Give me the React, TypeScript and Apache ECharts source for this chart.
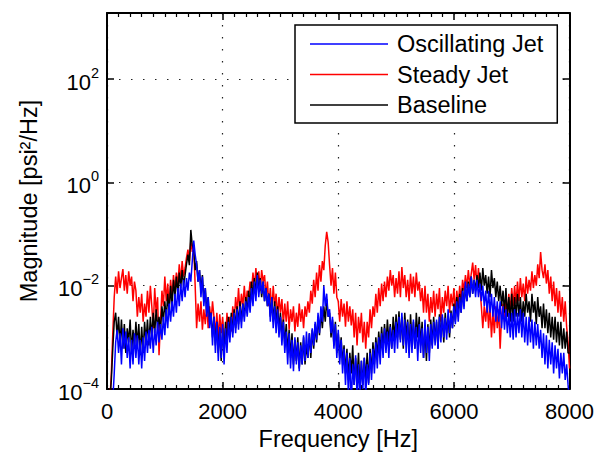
import React, { useEffect, useRef } from 'react';
import * as echarts from 'echarts';

const FONT = '"Liberation Sans", Arial, Helvetica, sans-serif';

// Frequency grid (Hz): first sample and spacing of the spectra below
const FREQ_START = 0;
const FREQ_STEP = 25;

const X_MIN = 0;
const X_MAX = 8000;
const X_INTERVAL = 2000;
const Y_MIN = 1e-4;
const Y_MAX = 1900;

const SERIES_NAMES = ['Oscillating Jet', 'Steady Jet', 'Baseline'];

// Steady Jet (red), psi^2/Hz, every 25 Hz from 0 to 8000 Hz (20 values = 500 Hz per row)
const steadyJet = [
  5e-5, 5e-5, 6e-5, 2e-4, 1.2e-3, 6e-3, 1.5e-2, 7e-3, 1.9e-2, 9e-3, 1.4e-2, 2.1e-2, 8e-3, 1.6e-2, 7e-3, 1.9e-2, 1e-2, 1.5e-2, 5e-3, 1.2e-2,
  8e-3, 2.5e-3, 6e-3, 3e-3, 7e-3, 2e-3, 4.5e-3, 2.5e-3, 8e-3, 3e-3, 1e-2, 4e-3, 1.5e-3, 9e-3, 3e-3, 6e-3, 4.5e-4, 2e-3, 8e-3, 4e-3,
  1.5e-2, 5e-3, 1.1e-2, 4e-3, 1.3e-2, 6e-3, 1.6e-2, 8e-3, 1.8e-2, 1e-2, 2.6e-2, 1.2e-2, 3e-2, 1.5e-2, 2.2e-2, 3.5e-2, 5e-2, 3e-2, 7.5e-2, 4.5e-2,
  6e-2, 1e-2, 1.5e-3, 4.5e-3, 2e-3, 5e-3, 1.4e-3, 3.5e-3, 1.8e-3, 4.5e-3, 1.5e-3, 4e-3, 2e-3, 5e-3, 2.5e-3, 1.2e-3, 3e-3, 9e-4, 2.8e-3, 1.2e-3,
  2.5e-3, 1e-3, 8e-4, 3e-3, 1.2e-3, 2.5e-3, 1.3e-3, 4e-3, 2e-3, 6e-3, 3e-3, 9e-3, 3e-3, 7e-3, 4e-3, 1e-2, 4e-3, 8e-3, 6e-3, 1.2e-2,
  8e-3, 1.8e-2, 9e-3, 2.2e-2, 1.1e-2, 1.9e-2, 8e-3, 2e-2, 1.2e-2, 1.6e-2, 6e-3, 1.2e-2, 4e-3, 9e-3, 3e-3, 1e-2, 4e-3, 7e-3, 2.5e-3, 6e-3,
  3e-3, 5.5e-3, 1.8e-3, 4.5e-3, 2e-3, 5e-3, 1.4e-3, 3.5e-3, 2e-3, 4e-3, 1.3e-3, 3e-3, 1.6e-3, 4.5e-3, 2e-3, 3.5e-3, 1.5e-3, 4e-3, 2.5e-3, 5e-3,
  3e-3, 8e-3, 4.5e-3, 1.3e-2, 6e-3, 1.8e-2, 8e-3, 2.5e-2, 1.2e-2, 3e-2, 2e-2, 6e-2, 1.1e-1, 7e-2, 2.5e-2, 1e-2, 2.2e-2, 7e-3, 1.8e-2, 6e-3,
  5e-3, 2e-3, 5.5e-3, 2.5e-3, 4.5e-3, 1.6e-3, 5e-3, 2e-3, 4e-3, 1.7e-3, 3.5e-3, 1e-3, 3e-3, 7e-4, 2.5e-3, 1.2e-3, 3e-3, 8e-4, 2e-3, 6e-4,
  2e-3, 1e-3, 3.5e-3, 1.5e-3, 4e-3, 2.5e-3, 7e-3, 3e-3, 9e-3, 4e-3, 1.1e-2, 5e-3, 1.2e-2, 6e-3, 1.5e-2, 8e-3, 2e-2, 1e-2, 1.6e-2, 6e-3,
  1.4e-2, 7e-3, 1.9e-2, 6e-3, 2.3e-2, 9e-3, 1.6e-2, 6e-3, 1.3e-2, 5e-3, 1.7e-2, 7e-3, 1.5e-2, 6e-3, 1.8e-2, 8e-3, 1.2e-2, 5e-3, 9e-3, 3e-3,
  1e-2, 3e-3, 7e-3, 2e-3, 6e-3, 3e-3, 8e-3, 2.5e-3, 7e-3, 3.5e-3, 9e-3, 2e-3, 6e-3, 3e-3, 8e-3, 4e-3, 1e-2, 3e-3, 7e-3, 4e-3,
  9e-3, 3e-3, 8e-3, 4e-3, 1e-2, 5e-3, 1.3e-2, 8e-3, 1.6e-2, 9e-3, 2e-2, 1e-2, 1.7e-2, 2.8e-2, 1.3e-2, 2.5e-2, 1e-2, 2.2e-2, 9e-3, 4e-3,
  1.5e-3, 4e-3, 2e-3, 5e-3, 1.5e-3, 4e-3, 1e-3, 3e-3, 1.2e-3, 4e-3, 1.5e-3, 3.5e-3, 6e-4, 2.5e-3, 4.5e-3, 2e-3, 6e-3, 2.5e-3, 7e-3, 3e-3,
  9e-3, 4e-3, 1e-2, 4.5e-3, 1.2e-2, 5e-3, 1.4e-2, 6e-3, 1.1e-2, 5e-3, 1.5e-2, 7e-3, 1.3e-2, 8e-3, 1.9e-2, 9e-3, 1.6e-2, 1e-2, 2.6e-2, 1.4e-2,
  4.5e-2, 2e-2, 1.4e-2, 2.6e-2, 1.1e-2, 2e-2, 7e-3, 1.5e-2, 5e-3, 1.2e-2, 4e-3, 9e-3, 3e-3, 8e-3, 2.5e-3, 6e-3, 2e-3, 5e-3, 1.6e-3, 8e-4,
  2.5e-4,
];

// Baseline (black)
const baseline = [
  5e-5, 5e-5, 6e-5, 1.5e-4, 6e-4, 2e-3, 3e-3, 1e-3, 2.5e-3, 7e-4, 2.2e-3, 6e-4, 1.8e-3, 5e-4, 1.5e-3, 8e-4, 2.2e-3, 5e-4, 1.4e-3, 6e-4,
  2e-3, 7e-4, 1.8e-3, 4.5e-4, 1.6e-3, 5e-4, 2e-3, 8e-4, 2.2e-3, 7e-4, 2.5e-3, 1e-3, 3e-3, 1.2e-3, 3.5e-3, 1.5e-3, 2.5e-3, 1.3e-3, 4e-3, 2e-3,
  5e-3, 2.2e-3, 7e-3, 3e-3, 1e-2, 4e-3, 1.3e-2, 6e-3, 1.5e-2, 7e-3, 1.8e-2, 9e-3, 2e-2, 1e-2, 1.6e-2, 2.6e-2, 4e-2, 2.5e-2, 1.2e-1, 6e-2,
  5e-2, 2e-2, 3e-2, 1.2e-2, 2e-2, 8e-3, 1.6e-2, 5e-3, 9e-3, 3e-3, 6e-3, 2e-3, 3e-3, 1e-3, 2.5e-3, 7e-4, 2e-3, 5e-4, 1.5e-3, 3.5e-4,
  1.5e-3, 5e-4, 2e-3, 7e-4, 2.5e-3, 1e-3, 3e-3, 1.2e-3, 3.5e-3, 1.5e-3, 4e-3, 1.8e-3, 5e-3, 2e-3, 4.5e-3, 2.5e-3, 6e-3, 3e-3, 8e-3, 4e-3,
  1.2e-2, 6e-3, 1.4e-2, 7e-3, 1.8e-2, 8e-3, 1.4e-2, 6e-3, 1.2e-2, 5e-3, 9e-3, 4e-3, 7e-3, 2.5e-3, 6e-3, 2e-3, 5e-3, 1.8e-3, 4e-3, 1.5e-3,
  3e-3, 1e-3, 2.2e-3, 7e-4, 1.8e-3, 5e-4, 1.4e-3, 4e-4, 1.2e-3, 3e-4, 9e-4, 3.5e-4, 1e-3, 2.5e-4, 8e-4, 3e-4, 1e-3, 3e-4, 7e-4, 4e-4,
  1.2e-3, 4e-4, 1.4e-3, 6e-4, 1.8e-3, 8e-4, 2.5e-3, 1.1e-3, 3e-3, 1.5e-3, 4e-3, 2e-3, 5.5e-3, 2.5e-3, 3e-3, 1e-3, 2.2e-3, 7e-4, 2e-3, 5e-4,
  1.2e-3, 4e-4, 1e-3, 3e-4, 7e-4, 2e-4, 6e-4, 1.5e-4, 5e-4, 2e-4, 7e-4, 1.2e-4, 4e-4, 1.5e-4, 5e-4, 1e-4, 3.5e-4, 1.2e-4, 4e-4, 1.5e-4,
  5e-4, 1.3e-4, 6e-4, 2e-4, 8e-4, 3e-4, 1e-3, 4e-4, 1.3e-3, 5e-4, 1.6e-3, 6e-4, 1.8e-3, 7e-4, 2.2e-3, 8e-4, 1.8e-3, 6e-4, 2.5e-3, 9e-4,
  2.8e-3, 1e-3, 3.2e-3, 9e-4, 2.5e-3, 6e-4, 3e-3, 1e-3, 2.2e-3, 5e-4, 2.8e-3, 8e-4, 2e-3, 6e-4, 3e-3, 1e-3, 2.5e-3, 7e-4, 2e-3, 4e-4,
  1.5e-3, 3.5e-4, 1.8e-3, 5e-4, 2.2e-3, 7e-4, 2.5e-3, 9e-4, 2e-3, 6e-4, 2.8e-3, 1e-3, 2.5e-3, 8e-4, 3e-3, 1.2e-3, 2.5e-3, 1e-3, 3.3e-3, 1.5e-3,
  4.5e-3, 2e-3, 6e-3, 2.5e-3, 7e-3, 3e-3, 9e-3, 4e-3, 1e-2, 5e-3, 1.2e-2, 6e-3, 1.5e-2, 7e-3, 1.3e-2, 8e-3, 1.6e-2, 9e-3, 1.8e-2, 8e-3,
  2.2e-2, 1e-2, 1.6e-2, 7e-3, 1.5e-2, 6e-3, 2e-2, 9e-3, 1.4e-2, 6e-3, 1.2e-2, 5e-3, 1e-2, 4e-3, 8e-3, 3e-3, 9e-3, 2.5e-3, 6e-3, 2e-3,
  7e-3, 2e-3, 6e-3, 2.5e-3, 7e-3, 2.5e-3, 6e-3, 2e-3, 5e-3, 2.5e-3, 7e-3, 3e-3, 5e-3, 2e-3, 7e-3, 3e-3, 5e-3, 1.8e-3, 6e-3, 2.5e-3,
  4e-3, 1.5e-3, 4.5e-3, 1.5e-3, 3.5e-3, 1.2e-3, 3e-3, 1e-3, 2.5e-3, 9e-4, 2.5e-3, 8e-4, 2e-3, 7e-4, 2e-3, 6e-4, 1.5e-3, 6e-4, 1.3e-3, 5e-4,
  5e-4,
];

// Oscillating Jet (blue)
const oscillatingJet = [
  5e-5, 5e-5, 5e-5, 5e-5, 6e-5, 2e-4, 8e-4, 1.4e-3, 5e-4, 1.2e-3, 3e-4, 1.5e-3, 6e-4, 1.3e-3, 4e-4, 1e-3, 2.5e-4, 9e-4, 3e-4, 1.2e-3,
  4e-4, 1.1e-3, 3e-4, 9e-4, 2.5e-4, 1e-3, 3.5e-4, 1.3e-3, 5e-4, 1.4e-3, 6e-4, 1.6e-3, 5e-4, 1.5e-3, 7e-4, 2e-3, 8e-4, 1.8e-3, 9e-4, 2.5e-3,
  1.1e-3, 3.5e-3, 1.5e-3, 4.5e-3, 2e-3, 5e-3, 2.5e-3, 7e-3, 3e-3, 9e-3, 4e-3, 1.1e-2, 5e-3, 1.3e-2, 6e-3, 1.4e-2, 8e-3, 1.8e-2, 1.2e-2, 3e-2,
  7.5e-2, 4e-2, 2.5e-2, 1.2e-2, 2e-2, 6e-3, 1.5e-2, 4e-3, 9e-3, 2.5e-3, 6e-3, 1.5e-3, 3e-3, 7e-4, 2.5e-3, 5e-4, 2e-3, 3.5e-4, 1.6e-3, 4e-4,
  1.8e-3, 3e-4, 1.5e-3, 5e-4, 2e-3, 8e-4, 2.5e-3, 1e-3, 3e-3, 1.2e-3, 3.5e-3, 1.4e-3, 4e-3, 1.5e-3, 4.5e-3, 2e-3, 5e-3, 2.5e-3, 6e-3, 3e-3,
  9e-3, 4e-3, 1.2e-2, 5e-3, 1.6e-2, 6e-3, 1.3e-2, 7e-3, 1.2e-2, 5e-3, 9e-3, 4e-3, 7e-3, 2e-3, 6e-3, 1.5e-3, 4e-3, 1.2e-3, 3.5e-3, 1e-3,
  2.5e-3, 7e-4, 2e-3, 5e-4, 1.3e-3, 3e-4, 1.2e-3, 2.5e-4, 9e-4, 2.2e-4, 1e-3, 3e-4, 8e-4, 2.2e-4, 7e-4, 3e-4, 1.1e-3, 3.5e-4, 1.3e-3, 4e-4,
  1.2e-3, 5e-4, 1.5e-3, 7e-4, 2e-3, 9e-4, 3e-3, 1.2e-3, 4e-3, 2e-3, 1e-2, 4e-3, 7e-3, 2.5e-3, 3.5e-3, 1.2e-3, 2.5e-3, 6e-4, 1.8e-3, 4e-4,
  1.4e-3, 3e-4, 9e-4, 2e-4, 6e-4, 1.2e-4, 5e-4, 8e-5, 4e-4, 5e-5, 3e-4, 1.2e-4, 4.5e-4, 7e-5, 3e-4, 6e-5, 3.5e-4, 1e-4, 4e-4, 7e-5,
  3e-4, 1.2e-4, 5e-4, 1.5e-4, 6e-4, 2e-4, 8e-4, 2.5e-4, 1e-3, 3e-4, 1.2e-3, 4e-4, 1.5e-3, 5e-4, 1.3e-3, 4e-4, 1.6e-3, 6e-4, 1.4e-3, 5e-4,
  2e-3, 6e-4, 2.5e-3, 8e-4, 3e-3, 7e-4, 2.2e-3, 5e-4, 2e-3, 4e-4, 1.8e-3, 5e-4, 2.2e-3, 6e-4, 1.6e-3, 3.5e-4, 1.8e-3, 5e-4, 1.5e-3, 4e-4,
  2.2e-3, 5e-4, 1.6e-3, 3.5e-4, 1.8e-3, 6e-4, 2e-3, 7e-4, 2.2e-3, 6e-4, 2.5e-3, 8e-4, 2.8e-3, 1e-3, 2.4e-3, 9e-4, 3.5e-3, 1.2e-3, 3e-3, 1.5e-3,
  4e-3, 1.8e-3, 5e-3, 2e-3, 6e-3, 3e-3, 8e-3, 3.5e-3, 1.2e-2, 5e-3, 1.1e-2, 6e-3, 1.5e-2, 7e-3, 1.3e-2, 6e-3, 1.3e-2, 6e-3, 1.1e-2, 5e-3,
  1e-2, 4e-3, 8e-3, 3e-3, 8e-3, 3e-3, 7e-3, 2.5e-3, 6e-3, 2e-3, 5e-3, 2e-3, 5e-3, 1.5e-3, 4e-3, 1.4e-3, 3.5e-3, 1.2e-3, 3e-3, 1e-3,
  3e-3, 9e-4, 3.5e-3, 1e-3, 3e-3, 1.2e-3, 3.5e-3, 1e-3, 3e-3, 8e-4, 2.5e-3, 7e-4, 2.5e-3, 8e-4, 2.2e-3, 6e-4, 2e-3, 7e-4, 1.8e-3, 6e-4,
  1.4e-3, 4e-4, 1.2e-3, 3e-4, 1.1e-3, 2.5e-4, 9e-4, 3e-4, 8e-4, 2e-4, 7e-4, 2.5e-4, 6e-4, 1.6e-4, 5e-4, 2e-4, 5e-4, 1.5e-4, 3e-4, 1.2e-4,
  5e-5,
];

const toPairs = (vals: number[]) => vals.map((v, i) => [FREQ_START + i * FREQ_STEP, v]);

const tickStyle = { color: '#000', width: 1.5 };
const dotted = { color: '#222', width: 1.2, type: [1.5, 10.5] as number[] };

function logLabel(v: number): string {
  const e = Math.log10(v);
  const r = Math.round(e);
  if (Math.abs(e - r) > 1e-6) return '';
  const s = r < 0 ? '\u2212' + String(-r) : String(r);
  return `{b|10}{s|${s}}`;
}

export default function App() {
  const ref = useRef<HTMLDivElement>(null);
  useEffect(() => {
    if (!ref.current) return;
    const chart = echarts.init(ref.current, null, { renderer: 'svg' });
    const xCommon = {
      type: 'value',
      min: X_MIN,
      max: X_MAX,
      interval: X_INTERVAL,
      axisLine: { show: true, onZero: false, lineStyle: { color: '#000', width: 2 } },
      axisTick: { show: true, inside: true, length: 7, lineStyle: tickStyle },
      minorTick: { show: true, splitNumber: 10, length: 4, lineStyle: { color: '#000', width: 1.2 } },
    };
    const yCommon = {
      type: 'log',
      logBase: 10,
      min: Y_MIN,
      max: Y_MAX,
      interval: 2,
      axisLine: { show: true, onZero: false, lineStyle: { color: '#000', width: 2 } },
      axisTick: { show: true, inside: true, length: 7, lineStyle: tickStyle },
    };
    const lineSeries = (name: string, vals: number[], color: string) => ({
      name,
      type: 'line',
      data: toPairs(vals),
      symbol: 'none',
      showSymbol: false,
      clip: true,
      color,
      lineStyle: { color, width: 1.5 },
    });
    const option: any = {
      animation: false,
      backgroundColor: '#fff',
      grid: { left: 107, right: 26, top: 13, bottom: 66, containLabel: false },
      legend: {
        data: SERIES_NAMES,
        orient: 'vertical',
        left: 295,
        top: 25,
        padding: [7, 14, 6, 15],
        itemGap: 6.5,
        itemWidth: 78,
        itemHeight: 1.6,
        icon: 'rect',
        backgroundColor: '#fff',
        borderColor: '#000',
        borderWidth: 1.5,
        textStyle: { fontSize: 23.5, color: '#000', fontFamily: FONT, padding: [0, 0, 0, 4] },
      },
      xAxis: [
        {
          ...xCommon,
          position: 'bottom',
          axisLabel: { color: '#000', fontSize: 22, fontFamily: FONT, margin: 11, formatter: (v: number) => String(v) },
          splitLine: { show: true, lineStyle: dotted },
          name: 'Frequency [Hz]',
          nameLocation: 'middle',
          nameGap: 38,
          nameTextStyle: { color: '#000', fontSize: 23.5, fontFamily: FONT },
        },
        {
          ...xCommon,
          position: 'top',
          axisLabel: { show: false },
          splitLine: { show: false },
        },
      ],
      yAxis: [
        {
          ...yCommon,
          position: 'left',
          axisLabel: {
            margin: 8,
            formatter: logLabel,
            rich: {
              b: { fontSize: 22, color: '#000', fontFamily: FONT, padding: [6, 0, 0, 0] },
              s: { fontSize: 14.5, color: '#000', fontFamily: FONT, verticalAlign: 'top' },
            },
          },
          splitLine: { show: true, lineStyle: dotted },
          name: 'Magnitude [psi\u00B2/Hz]',
          nameLocation: 'middle',
          nameGap: 66,
          nameRotate: 90,
          nameTextStyle: { color: '#000', fontSize: 23.5, fontFamily: FONT },
        },
        {
          ...yCommon,
          position: 'right',
          axisLabel: { show: false },
          splitLine: { show: false },
        },
      ],
      series: [
        lineSeries('Steady Jet', steadyJet, '#ff0000'),
        lineSeries('Baseline', baseline, '#000000'),
        lineSeries('Oscillating Jet', oscillatingJet, '#0000ff'),
      ],
    };
    chart.setOption(option);
    return () => chart.dispose();
  }, []);
  return (
    <div
      ref={ref}
      style={{ position: 'fixed', left: 0, top: 0, width: 597, height: 456, background: '#fff' }}
    />
  );
}
